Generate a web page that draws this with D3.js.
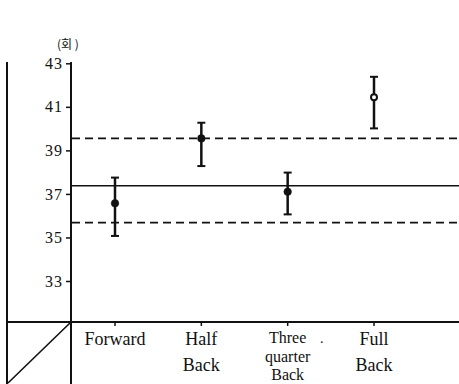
<!DOCTYPE html>
<html><head><meta charset="utf-8">
<script src="https://cdn.jsdelivr.net/npm/d3@7"></script>
<style>body{margin:0;background:#fff}svg{display:block}</style>
</head><body>
<script>
const categories = ["Forward", "Half Back", "Three quarter Back", "Full Back"];
const categoryLines = [["Forward"], ["Half", "Back"], ["Three", "quarter", "Back"], ["Full", "Back"]];
const means = [36.57, 39.55, 37.1, 41.44];
const upper = [37.75, 40.27, 37.98, 42.38];
const lower = [35.07, 38.28, 36.06, 40.01];
const filled = [true, true, true, false];
const refMean = 37.38, refUpper = 39.55, refLower = 35.68;
const yTicks = [33, 35, 37, 39, 41, 43];
const yUnit = "(회 )";

const W = 459, H = 384;
const svg = d3.select("body").append("svg").attr("width", W).attr("height", H);
const axisX = 71, leftX = 7, baseY = 322;
const y = d3.scaleLinear().domain([33, 43]).range([281, 63.3]);
const x = d3.scalePoint().domain(categories).range([115, 374]);
const serif = "'Liberation Serif','DejaVu Serif',serif";

// frame lines
svg.append("line").attr("x1", leftX).attr("x2", leftX).attr("y1", 62).attr("y2", H).attr("stroke", "#111").attr("stroke-width", 2);
svg.append("line").attr("x1", axisX).attr("x2", axisX).attr("y1", 62).attr("y2", H).attr("stroke", "#111").attr("stroke-width", 2);
svg.append("line").attr("x1", leftX).attr("x2", W).attr("y1", baseY).attr("y2", baseY).attr("stroke", "#111").attr("stroke-width", 2);
svg.append("line").attr("x1", leftX + 1).attr("y1", H - 1).attr("x2", axisX).attr("y2", baseY).attr("stroke", "#111").attr("stroke-width", 1.6);

// y axis
const yAxis = d3.axisLeft(y).tickValues(yTicks).tickSize(5).tickPadding(3);
const ga = svg.append("g").attr("transform", `translate(${axisX},0)`).call(yAxis);
ga.attr("font-family", null).attr("font-size", null);
ga.select(".domain").remove();
ga.selectAll(".tick line").attr("stroke", "#111").attr("stroke-width", 1.5);
ga.selectAll(".tick text").style("font-family", serif).style("font-size", "16px").attr("fill", "#111").style("letter-spacing", "1px");

svg.append("text").attr("x", 57).attr("y", 49).style("font-family", "'Noto Sans CJK KR',serif").style("font-size", "12px").attr("fill", "#111").text(yUnit);

// reference lines
svg.append("line").attr("x1", axisX).attr("x2", W).attr("y1", y(refMean)).attr("y2", y(refMean)).attr("stroke", "#111").attr("stroke-width", 1.5);
[refUpper, refLower].forEach(v => {
  svg.append("line").attr("x1", axisX + 1).attr("x2", W).attr("y1", y(v)).attr("y2", y(v))
    .attr("stroke", "#111").attr("stroke-width", 1.6).attr("stroke-dasharray", "8,5");
});

// category ticks and labels
const gx = svg.append("g");
categories.forEach((c, i) => {
  const cx = x(c);
  gx.append("line").attr("x1", cx).attr("x2", cx).attr("y1", baseY).attr("y2", baseY + 4).attr("stroke", "#111").attr("stroke-width", 1.5);
  const lines = categoryLines[i];
  const three = lines.length === 3;
  const spacing = three ? 18.5 : 26;
  const start = three ? 343 : 345;
  lines.forEach((t, j) => {
    gx.append("text").attr("x", cx).attr("y", start + j * spacing).attr("text-anchor", "middle")
      .style("font-family", serif).style("font-size", three ? "16px" : "18px").attr("fill", "#111").text(t);
  });
});
svg.append("text").attr("x", 320).attr("y", 343).style("font-family", serif).style("font-size", "14px").attr("fill", "#111").text(".");

// error bars
const g = svg.append("g");
categories.forEach((c, i) => {
  const cx = x(c);
  g.append("line").attr("x1", cx).attr("x2", cx).attr("y1", y(upper[i])).attr("y2", y(lower[i])).attr("stroke", "#111").attr("stroke-width", 2.5);
  [upper[i], lower[i]].forEach(v => {
    g.append("line").attr("x1", cx - 4).attr("x2", cx + 4).attr("y1", y(v)).attr("y2", y(v)).attr("stroke", "#111").attr("stroke-width", 2);
  });
  g.append("circle").attr("cx", cx).attr("cy", y(means[i])).attr("r", filled[i] ? 3.8 : 3)
    .attr("fill", filled[i] ? "#111" : "#fff").attr("stroke", "#111").attr("stroke-width", filled[i] ? 0.5 : 2);
});
</script>
</body></html>
